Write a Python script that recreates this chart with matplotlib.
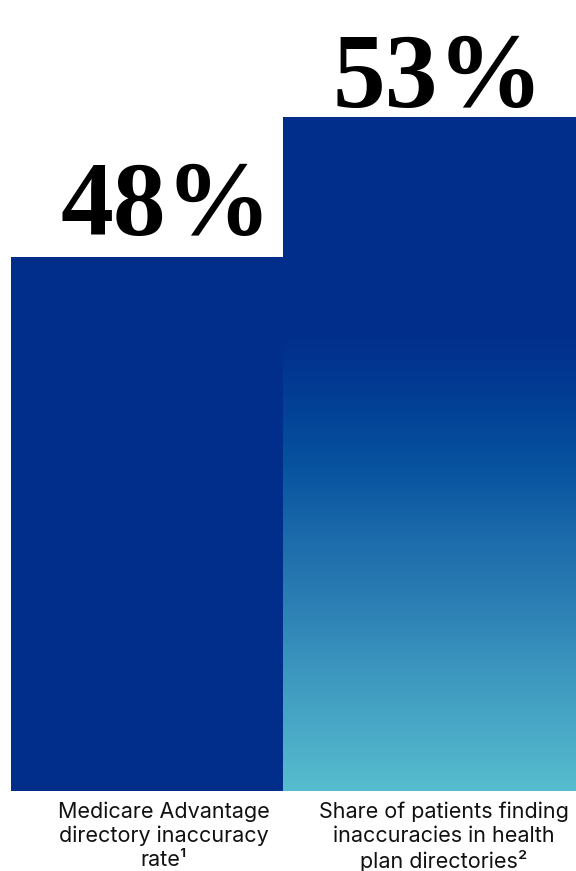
import numpy as np
import matplotlib
matplotlib.use("Agg")
import matplotlib.pyplot as plt
from matplotlib.colors import LinearSegmentedColormap

# Data
categories = ["Medicare Advantage\ndirectory inaccuracy\nrate¹",
              "Share of patients finding\ninaccuracies in health\nplan directories²"]
values = [48, 53]
value_labels = ["48%", "53%"]

W, H, DPI = 576, 871, 100
fig = plt.figure(figsize=(W / DPI, H / DPI), dpi=DPI)
fig.patch.set_facecolor("white")

# axes spans from left margin to right edge, bottom at bar baseline
left_px, bottom_px = 11, 871 - 790.7
ax = fig.add_axes([left_px / W, bottom_px / H, (W - left_px) / W, 1 - bottom_px / H])
XLIM = (-0.5, 1.58)
YLIM = (28.93, 57.17)
ax.set_xlim(*XLIM)
ax.set_ylim(*YLIM)
ax.axis("off")

navy = "#012E8B"
x = np.arange(len(values))
# second bar runs off the right edge of the canvas
widths = [1.0, 1.2]
bars = ax.bar(x - 0.5, values, width=widths, align="edge",
              color=[navy, "none"], linewidth=0, zorder=2)

# vertical gradient fill for the second bar
grad_cmap = LinearSegmentedColormap.from_list(
    "bluegrad",
    [(0.0, "#57BDCE"),
     (0.085, "#4AAAC7"),
     (0.183, "#3B95BE"),
     (0.282, "#2B7EB4"),
     (0.382, "#1B69AA"),
     (0.48, "#0753A0"),
     (0.58, "#023F95"),
     (0.67, "#012F8C"),
     (1.0, "#012E8B")])
ymin = YLIM[0]
grad = np.linspace(0, 1, 512).reshape(-1, 1)
im = ax.imshow(grad, cmap=grad_cmap, origin="lower", aspect="auto",
               extent=[x[1] - 0.5, x[1] - 0.5 + widths[1], ymin, values[1]],
               interpolation="bicubic", zorder=1)
im.set_clip_path(bars[1])
ax.set_xlim(*XLIM)
ax.set_ylim(*YLIM)

# big value labels above bars
num_dy = [16, 7]
for xi, v, lab, dy in zip(x, values, value_labels, num_dy):
    ax.annotate(lab, xy=(xi, v), xytext=(14, dy), textcoords="offset points",
                ha="center", va="baseline", fontsize=76,
                family=["Liberation Serif", "DejaVu Serif"], fontweight="bold",
                color="black", annotation_clip=False)

# category labels beneath bars
cat_dx = [12, 18]
for xi, cat, dx in zip(x, categories, cat_dx):
    ax.annotate(cat, xy=(xi, ymin), xytext=(dx, -8), textcoords="offset points",
                ha="center", va="top", fontsize=15.5, linespacing=1.22,
                family=["Inter", "DejaVu Sans"], color="#111111",
                annotation_clip=False)

fig.savefig("out.png", dpi=DPI, facecolor="white")
